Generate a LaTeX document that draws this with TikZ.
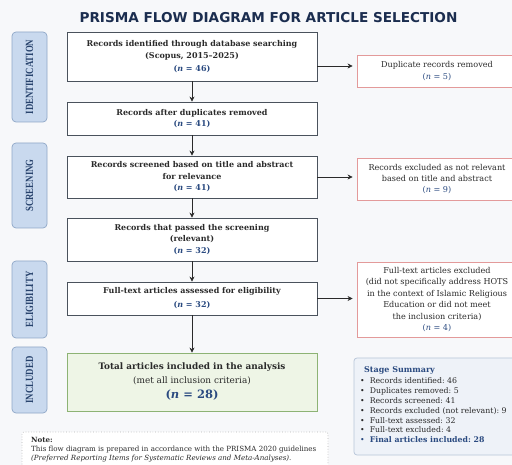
\documentclass[tikz,border=0pt]{standalone}
\usepackage{fontspec}
\setmainfont{DejaVu Serif}
\newfontfamily\titlefont{DejaVu Sans}
\newfontfamily\stagefont{Liberation Serif}
\usetikzlibrary{arrows.meta}
\definecolor{bgc}{HTML}{F7F8FA}
\definecolor{titlec}{HTML}{1B2D4F}
\definecolor{nblue}{HTML}{2A4A80}
\definecolor{boxline}{HTML}{4A525C}
\definecolor{redline}{HTML}{E39A9A}
\definecolor{greenfill}{HTML}{EEF5E6}
\definecolor{greenline}{HTML}{8DB374}
\definecolor{stagefill}{HTML}{C9D9EE}
\definecolor{stageline}{HTML}{8FA7C7}
\definecolor{stagetext}{HTML}{27426C}
\definecolor{sumfill}{HTML}{EEF2F8}
\definecolor{sumline}{HTML}{B7C5D8}
\definecolor{notec}{HTML}{B5B5B5}
\definecolor{txt}{HTML}{2A2A2A}
\tikzset{
  mainbox/.style={draw=boxline, line width=0.8pt, fill=white, minimum width=250pt, align=center, inner sep=0pt,
    font=\fontsize{8}{11.5}\selectfont\bfseries, text=txt},
  exclbox/.style={draw=redline, line width=0.8pt, fill=white, minimum width=160pt, align=center, inner sep=0pt,
    font=\fontsize{8.1}{11.4}\selectfont, text=txt},
  stagebox/.style={draw=stageline, line width=0.7pt, fill=stagefill, rounded corners=4pt, minimum width=35pt,
    inner sep=0pt, text=stagetext, font=\stagefont\fontsize{11}{10}\selectfont\bfseries},
  flowarrow/.style={draw=txt, line width=0.7pt, -{Stealth[length=5pt,width=5pt]}},
}
\newcommand{\nval}[1]{\textcolor{nblue}{(\textit{n} = #1)}}
\begin{document}
\begin{tikzpicture}[x=1pt,y=-1pt]
\fill[bgc] (0,0) rectangle (512,465);
\useasboundingbox (0,0) rectangle (512,465);

\node[font=\titlefont\fontsize{13.6}{13}\selectfont\bfseries, text=titlec] (title) at (268.5,18) {PRISMA FLOW DIAGRAM FOR ARTICLE SELECTION};

% stage labels
\node[stagebox, minimum height=90pt] (sid) at (29.5,77) {\rotatebox{90}{\scalebox{0.8}[1]{IDENTIFICATION}}};
\node[stagebox, minimum height=85pt] (ssc) at (29.5,185.5) {\rotatebox{90}{\scalebox{0.8}[1]{SCREENING}}};
\node[stagebox, minimum height=77pt] (sel) at (29.5,299.5) {\rotatebox{90}{\scalebox{0.8}[1]{ELIGIBILITY}}};
\node[stagebox, minimum height=66pt] (sin) at (29.5,380) {\rotatebox{90}{\scalebox{0.8}[1]{INCLUDED}}};

% main boxes
\node[mainbox, minimum height=49pt] (b1) at (192,56.5) {Records identified through database searching\\(Scopus, 2015--2025)\\[1.5pt]\nval{46}};
\node[mainbox, minimum height=33pt] (b2) at (192,118.5) {Records after duplicates removed\\\nval{41}};
\node[mainbox, minimum height=42pt] (b3) at (192,177) {Records screened based on title and abstract\\for relevance\\\nval{41}};
\node[mainbox, minimum height=43pt] (b4) at (192,239.5) {Records that passed the screening\\(relevant)\\\nval{32}};
\node[mainbox, minimum height=33pt] (b5) at (192,298.5) {Full-text articles assessed for eligibility\\[2.5pt]\nval{32}};
\node[mainbox, draw=greenline, fill=greenfill, minimum height=58pt, font=\fontsize{8.9}{13.5}\selectfont] (b6) at (192,382)
  {\textbf{Total articles included in the analysis}\\(met all inclusion criteria)\\[2pt]{\fontsize{11.5}{13}\selectfont\bfseries\nval{28}}};

% exclusion boxes
\node[exclbox, minimum height=32pt] (r1) at (437,71) {Duplicate records removed\\\nval{5}};
\node[exclbox, minimum height=42pt] (r2) at (437,179) {Records excluded as not relevant\\based on title and abstract\\\nval{9}};
\node[exclbox, minimum height=75pt] (r3) at (437,299.5) {Full-text articles excluded\\(did not specifically address HOTS\\in the context of Islamic Religious\\Education or did not meet\\the inclusion criteria)\\\nval{4}};

% vertical arrows
\draw[flowarrow] (b1) -- (b2);
\draw[flowarrow] (b2) -- (b3);
\draw[flowarrow] (b3) -- (b4);
\draw[flowarrow] (b4) -- (b5);
\draw[flowarrow] (b5) -- (b6);

% horizontal arrows
\coordinate (a1) at (317,66);
\draw[flowarrow, shorten >=4pt] (a1) -- (r1.west |- a1);
\draw[flowarrow, shorten >=4pt] (b3.east) -- (r2.west |- b3.east);
\draw[flowarrow, shorten >=4pt] (b5.east) -- (r3.west |- b5.east);

% stage summary
\node[draw=sumline, line width=0.7pt, fill=sumfill, rounded corners=3pt, minimum width=163pt, minimum height=97pt, inner sep=0pt] (sum) at (435.5,406.5) {};
\node[anchor=west, inner sep=0pt, font=\fontsize{8}{9}\selectfont\bfseries, text=nblue] (sumt) at (364,370) {Stage Summary};
\node[anchor=north west, align=left, inner sep=0pt, text=txt, font=\fontsize{7.8}{9.85}\selectfont] (suml) at (360,377.5)
  {\textbullet\ \ Records identified:\ 46\\
   \textbullet\ \ Duplicates removed:\ 5\\
   \textbullet\ \ Records screened:\ 41\\
   \textbullet\ \ Records excluded (not relevant):\ 9\\
   \textbullet\ \ Full-text assessed:\ 32\\
   \textbullet\ \ Full-text excluded:\ 4\\
   \textcolor{nblue}{\textbullet\ \ \textbf{Final articles included:\ 28}}};

% note
\node[draw=notec, dotted, line width=0.7pt, fill=white, rounded corners=2pt, minimum width=306pt, minimum height=40pt, inner sep=0pt] (note) at (175,452) {};
\node[anchor=north west, align=left, inner sep=0pt, text=txt, font=\fontsize{7.1}{9.2}\selectfont] (notet) at (31,437)
  {\textbf{Note:}\\This flow diagram is prepared in accordance with the PRISMA 2020 guidelines\\\textit{(Preferred Reporting Items for Systematic Reviews and Meta-Analyses).}};
\end{tikzpicture}
\end{document}
